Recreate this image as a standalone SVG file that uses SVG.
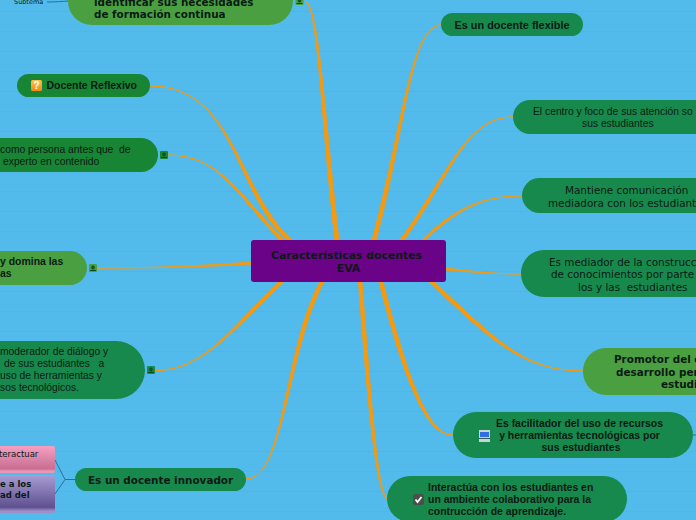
<svg xmlns="http://www.w3.org/2000/svg" width="696" height="520" viewBox="0 0 696 520">
<style>
text{fill:#0a1a14;white-space:pre}
.lb{font:bold 10.450px "Liberation Sans",Arial,sans-serif}
.lr{font:10.300px "Liberation Sans",Arial,sans-serif}
.db{font:bold 10.400px "DejaVu Sans",Verdana,sans-serif}
.dr{font:10.400px "DejaVu Sans",Verdana,sans-serif}
.m{text-anchor:middle}
.c{fill:#f7990c;stroke:#f7990c;stroke-width:.9}
.g1{fill:#17894c}.g2{fill:#188535}.g3{fill:#4aa040}
.tl{fill:none;stroke:#27709f;stroke-width:1}
</style>
<defs>
<pattern id="st" width="20" height="20" patternUnits="userSpaceOnUse"><rect width="20" height="20" fill="#53bbec"/><rect y="11" width="20" height="1" fill="#4fb6e6"/></pattern>
<linearGradient id="pk" x1="0" y1="0" x2="0" y2="1"><stop offset="0" stop-color="#f6a0c0"/><stop offset=".85" stop-color="#c76e92"/><stop offset=".92" stop-color="#ea94b6"/></linearGradient>
<linearGradient id="pu" x1="0" y1="0" x2="0" y2="1"><stop offset="0" stop-color="#a99dd4"/><stop offset=".85" stop-color="#5f5090"/><stop offset=".95" stop-color="#a18fc8"/></linearGradient>
<linearGradient id="ic" x1="0" y1="0" x2="0" y2="1"><stop offset="0" stop-color="#ffc04a"/><stop offset="1" stop-color="#f58a10"/></linearGradient>
<g id="mini"><rect x="-4" y="-4" width="8" height="8" rx="1"/><path d="M-3 2.500h6M-1.300 -.5a1.300 1.600 0 1 1 2.600 0a1.300 1.600 0 1 1 -2.600 0" fill="#0d5a28" stroke="#0d4a22" stroke-width="1"/></g>
</defs>
<rect width="696" height="520" fill="url(#st)"/>
<g id="connectors">
<path class="c" d="M305 1C318 5 320 110 335 240L339 240C324 110 319 4 305 1Z"/>
<path class="c" d="M150 86C235 86 233 190 287 240L292 240C237 190 235 86 150 86Z"/>
<path class="c" d="M168 155C220 155 236 195 280 240L284 240C240 195 220 155 168 155Z"/>
<path class="c" d="M97 268C150 268 200 266 251 262L251 264C200 267.500 150 268 97 268Z"/>
<path class="c" d="M156 370.500C205 370.500 233 325 279 282L284 282C237 325 205 370.500 156 370.500Z"/>
<path class="c" d="M246 479C285 479 283 350 320 282L324 282C287 350 285 479 246 479Z"/>
<path class="c" d="M441 25C410 25 401 135 372 240L376 240C405 135 410 25 441 25Z"/>
<path class="c" d="M513 117C465 117 448 175 400 240L404 240C452 175 465 117 513 117Z"/>
<path class="c" d="M522 196C480 196 454 209 422 240L425 240C457 211 480 196 522 196Z"/>
<path class="c" d="M446 268C470 271 495 274 521 274C495 274 470 272 446 270Z"/>
<path class="c" d="M583 371C520 371 488 337 429 282L434 282C492 334 520 371 583 371Z"/>
<path class="c" d="M453 435C425 437 403 375 379 282L383 282C407 375 428 436 453 435Z"/>
<path class="c" d="M387 499C378 492 370 440 358.500 282L362 282C374 440 379 491 387 499Z"/>
</g>
<g id="n-center"><rect x="251" y="240" width="195" height="42" rx="3" fill="#6a0388"/><text class="db m" x="346.500" y="259" style="font-size:10.850px">Características docentes</text><text class="db m" x="348.500" y="272" style="font-size:10.850px">EVA</text></g>
<g id="n-identificar"><rect x="68" y="-30" width="225" height="55" rx="24" class="g3"/><text class="db" x="94" y="6">identificar sus necesidades</text><text class="db" x="94" y="18">de formación continua</text><use href="#mini" x="299.500" y="1" fill="#4aa040"/></g>
<g id="n-subtema"><text x="14" y="3.500" style="font:6.500px 'DejaVu Sans',sans-serif">Subtema</text><path class="tl" d="M47 2C55 2 62 1.500 68 1"/></g>
<g id="n-reflexivo"><rect x="17" y="74" width="133" height="23" rx="11.500" class="g2"/><rect x="31" y="80" width="11" height="11" rx="1.500" fill="url(#ic)"/><text x="36.500" y="89" text-anchor="middle" style="font:bold 10px 'Liberation Sans',sans-serif;fill:#fff">?</text><text class="lb" x="46.500" y="89">Docente Reflexivo</text></g>
<g id="n-persona"><rect x="-40" y="138" width="198" height="34" rx="17" class="g2"/><text class="lr" x="0" y="153">como persona antes que  de</text><text class="lr" x="3" y="165">experto en contenido</text><use href="#mini" x="164" y="155" fill="#188535"/></g>
<g id="n-domina"><rect x="-60" y="251" width="147" height="34" rx="17" class="g3"/><text class="lb" x="0" y="265">y domina las</text><text class="lb" x="0" y="277">as</text><use href="#mini" x="93" y="268" fill="#4aa040"/></g>
<g id="n-moderador"><rect x="-60" y="341" width="205" height="58" rx="29" class="g1"/><text class="lr" x="0" y="355">moderador de diálogo y</text><text class="lr" x="4" y="367">de sus estudiantes   a</text><text class="lr" x="0" y="379">uso de herramientas y</text><text class="lr" x="0" y="391">sos tecnológicos.</text><use href="#mini" x="151" y="370" fill="#17894c"/></g>
<g id="n-innovador"><rect x="75" y="468" width="171" height="23" rx="11.500" class="g1"/><text class="db" x="88" y="484">Es un docente innovador</text></g>
<g id="n-interactuar"><rect x="-10" y="446" width="65" height="27" rx="2" fill="url(#pk)"/><text x="-1" y="457" style="font:8.500px 'DejaVu Sans',sans-serif">teractuar</text></g>
<g id="n-purple"><rect x="-10" y="475" width="65" height="38" rx="2" fill="url(#pu)"/><text x="0" y="487" style="font:bold 8.500px 'DejaVu Sans',sans-serif">e a los</text><text x="0" y="498" style="font:bold 8.500px 'DejaVu Sans',sans-serif">ad del</text></g>
<g id="sub-lines"><path class="tl" d="M55 460L65 479.500L55 494M65 479.500H75"/></g>
<g id="n-flexible"><rect x="441" y="13" width="142" height="23" rx="11.500" class="g1"/><text class="lb m" x="512" y="29" style="font-size:10.900px">Es un docente flexible</text></g>
<g id="n-centro"><rect x="513" y="100" width="240" height="34" rx="17" class="g1"/><text class="lr" x="533" y="115">El centro y foco de sus atención so</text><text class="lr" x="582" y="127">sus estudiantes</text></g>
<g id="n-mantiene"><rect x="522" y="178" width="240" height="35" rx="17.500" class="g1"/><text class="dr" x="565" y="194">Mantiene comunicación</text><text class="dr" x="548" y="207">mediadora con los estudiant</text></g>
<g id="n-mediador"><rect x="521" y="250" width="240" height="47" rx="23" class="g1"/><text class="dr" x="549" y="266">Es mediador de la construcc</text><text class="dr" x="551" y="278">de conocimientos por parte</text><text class="dr" x="578" y="291">los y las  estudiantes</text></g>
<g id="n-promotor"><rect x="583" y="348" width="240" height="47" rx="23" class="g3"/><text class="db" x="614" y="363">Promotor del c</text><text class="db" x="616" y="376">desarrollo per</text><text class="db" x="661" y="388">estudi</text></g>
<g id="n-facilitador"><rect x="453" y="412" width="240" height="46" rx="23" class="g1"/><path class="tl" d="M693 435H696"/><rect x="479" y="430" width="11" height="12" fill="#c9d3d6"/><rect x="480" y="432" width="9" height="5" fill="#2f6fe0"/><rect x="479" y="438" width="11" height="1" fill="#3a5a60"/><text class="lb m" x="579.500" y="427">Es facilitador del uso de recursos</text><text class="lb m" x="579.500" y="439">y herramientas tecnológicas por</text><text class="lb m" x="581" y="451">sus estudiantes</text></g>
<g id="n-interactua"><rect x="387" y="476" width="240" height="46" rx="23" class="g1"/><rect x="413" y="494" width="11" height="11" rx="2.500" fill="#4a4f4c"/><path d="M415.500 499.500l2 2.500l4-5" fill="none" stroke="#fff" stroke-width="1.800"/><text class="lb" x="428" y="491">Interactúa con los estudiantes en</text><text class="lb" x="428" y="503">un ambiente colaborativo para la</text><text class="lb" x="428" y="515">contrucción de aprendizaje.</text></g>
</svg>
